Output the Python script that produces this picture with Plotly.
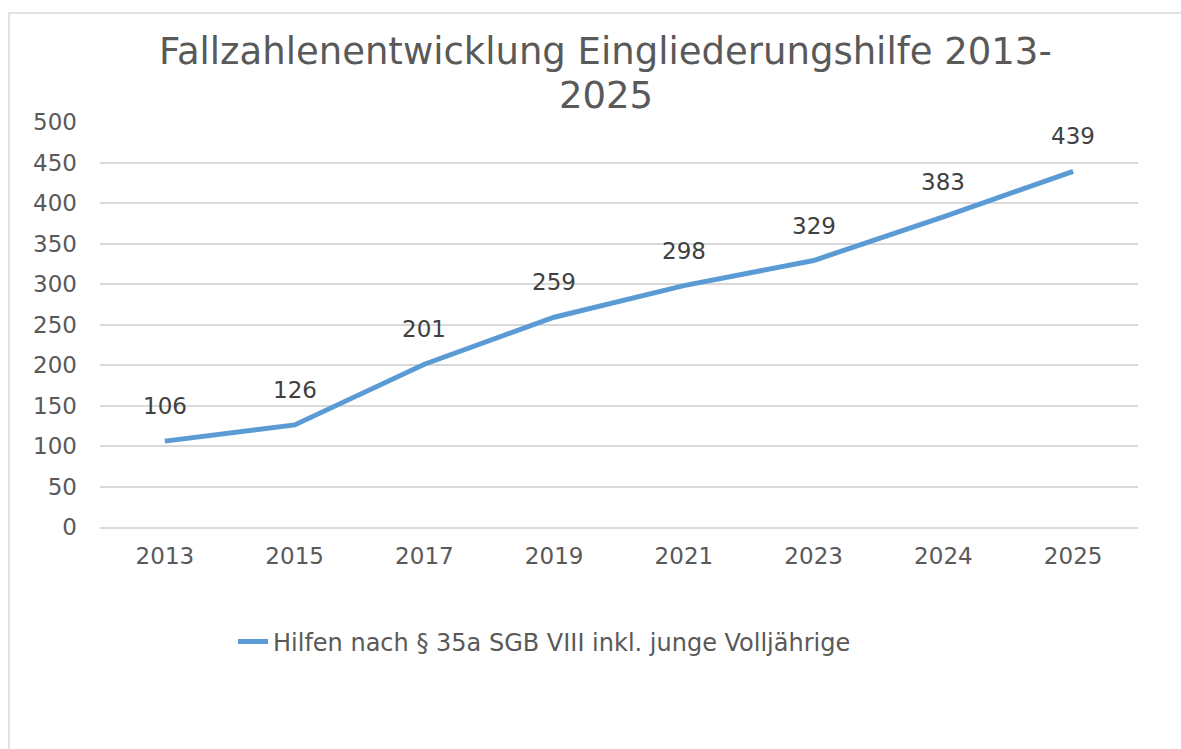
import plotly.graph_objects as go

years = ["2013", "2015", "2017", "2019", "2021", "2023", "2024", "2025"]
cases = [106, 126, 201, 259, 298, 329, 383, 439]
series_name = "Hilfen nach § 35a SGB VIII inkl. junge Volljährige"
title_lines = ["Fallzahlenentwicklung Eingliederungshilfe 2013-", "2025"]
y_ticks = [0, 50, 100, 150, 200, 250, 300, 350, 400, 450, 500]

W, H = 1181, 749
L, R, T, B = 100, 43, 122, 222
pw, ph = W - L - R, H - T - B
FONT = "DejaVu Sans"

fig = go.Figure()
fig.add_trace(go.Scatter(
    x=years, y=cases, mode="lines", name=series_name,
    line=dict(color="#5b9bd5", width=5),
))

for i, y in enumerate(cases):
    fig.add_annotation(x=i, y=y, xref="x", yref="y", text=str(y), showarrow=False, yshift=35,
                       font=dict(family=FONT, size=23, color="#404040"))

# title as two centered lines
for txt, py in zip(title_lines, [52, 95]):
    fig.add_annotation(x=(605.5 - L) / pw, y=(H - B - py) / ph, xref="paper", yref="paper",
                       xanchor="center", yanchor="middle", text=txt, showarrow=False,
                       font=dict(family=FONT, size=37, color="#595959"))

# chart border (outer frame)
fig.add_shape(type="rect", xref="paper", yref="paper",
              x0=(9 - L) / pw, x1=(1200 - L) / pw,
              y0=(H - B - 770) / ph, y1=(H - B - 13) / ph,
              line=dict(color="#d9d9d9", width=1.5), fillcolor="rgba(0,0,0,0)", layer="below")

fig.update_layout(
    width=W, height=H,
    margin=dict(l=L, r=R, t=T, b=B),
    paper_bgcolor="white", plot_bgcolor="white",
    font=dict(family=FONT, color="#595959"),
    showlegend=True,
    legend=dict(orientation="h", x=(233 - L) / pw, xanchor="left", y=(H - B - 642) / ph, yanchor="middle",
                font=dict(family=FONT, size=24, color="#595959")),
    xaxis=dict(type="category", range=[-0.5, 7.5], showgrid=False, showline=True,
               linecolor="#d9d9d9", linewidth=1.5, ticks="", tickfont=dict(size=23, color="#595959"),
               ticklabelstandoff=8, fixedrange=True),
    yaxis=dict(range=[0, 500], tickvals=y_ticks, showgrid=True, gridcolor="#d9d9d9", gridwidth=1.5,
               zeroline=False, showline=False, ticks="", tickfont=dict(size=23, color="#595959"),
               ticklabelstandoff=22, fixedrange=True),
)

fig.write_html("out.html", config={"displayModeBar": False},
               post_script="document.body.style.margin='0';")
